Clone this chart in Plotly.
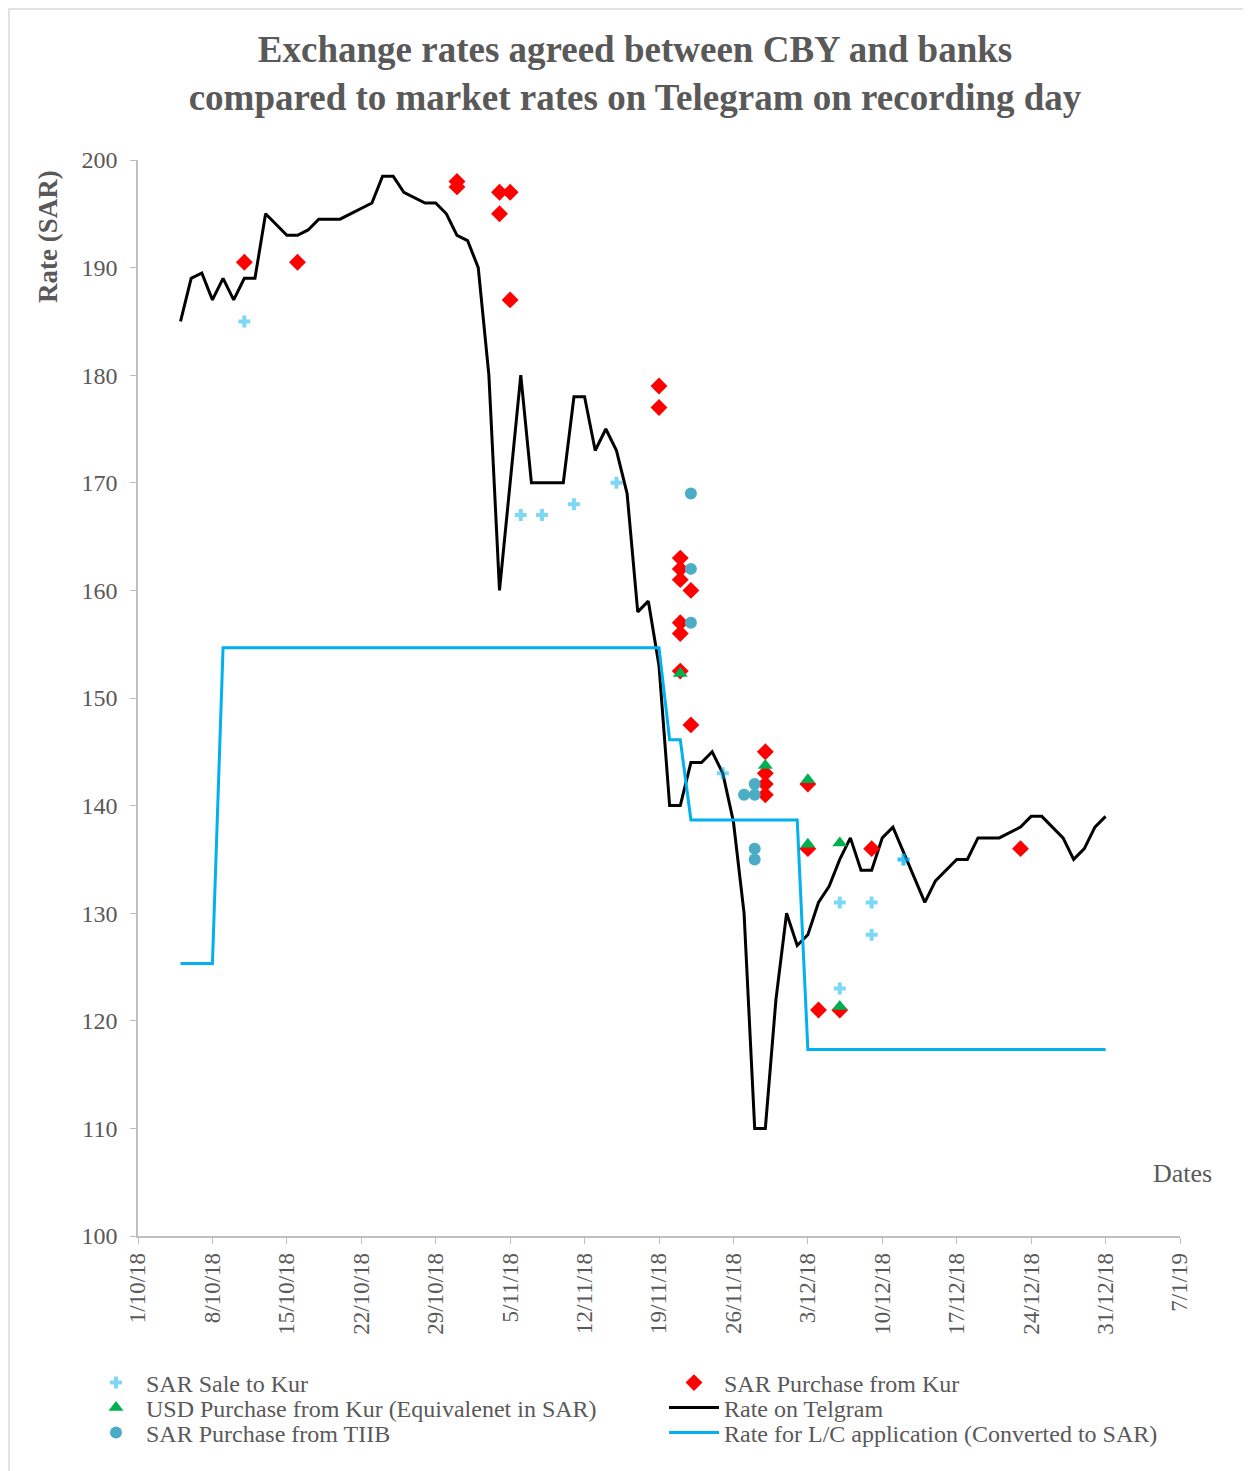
import pandas as pd
import plotly.graph_objects as go

# Rate on Telegram (black line)
tg_dates = ["2018-10-05", "2018-10-06", "2018-10-07", "2018-10-08", "2018-10-09", "2018-10-10",
            "2018-10-11", "2018-10-12", "2018-10-13", "2018-10-15", "2018-10-16", "2018-10-17",
            "2018-10-18", "2018-10-20", "2018-10-23", "2018-10-24", "2018-10-25", "2018-10-26",
            "2018-10-28", "2018-10-29", "2018-10-30", "2018-10-31", "2018-11-01", "2018-11-02",
            "2018-11-03", "2018-11-04", "2018-11-06", "2018-11-07", "2018-11-10", "2018-11-11",
            "2018-11-12", "2018-11-13", "2018-11-14", "2018-11-15", "2018-11-16", "2018-11-17",
            "2018-11-18", "2018-11-19", "2018-11-20", "2018-11-21", "2018-11-22", "2018-11-23",
            "2018-11-24", "2018-11-25", "2018-11-26", "2018-11-27", "2018-11-28", "2018-11-29",
            "2018-11-30", "2018-12-01", "2018-12-02", "2018-12-03", "2018-12-04", "2018-12-05",
            "2018-12-06", "2018-12-07", "2018-12-08", "2018-12-09", "2018-12-10", "2018-12-11",
            "2018-12-14", "2018-12-15", "2018-12-17", "2018-12-18", "2018-12-19", "2018-12-21",
            "2018-12-23", "2018-12-24", "2018-12-25", "2018-12-27", "2018-12-28", "2018-12-29",
            "2018-12-30", "2018-12-31"]
tg_rates = [185, 189, 189.5, 187, 189, 187,
            189, 189, 195, 193, 193, 193.5,
            194.5, 194.5, 196, 198.5, 198.5, 197,
            196, 196, 195, 193, 192.5, 190,
            180, 160, 180, 170, 170, 178,
            178, 173, 175, 173, 169, 158,
            159, 153, 140, 140, 144, 144,
            145, 143, 138.5, 130, 110, 110,
            122, 130, 127, 128, 131, 132.5,
            135, 137, 134, 134, 137, 138,
            131, 133, 135, 135, 137, 137,
            138, 139, 139, 137, 135, 136,
            138, 139]

# Rate for L/C application (converted to SAR)
lc_dates = ["2018-10-05", "2018-10-08", "2018-10-09", "2018-11-19", "2018-11-20",
            "2018-11-21", "2018-11-22", "2018-12-02", "2018-12-03", "2018-12-31"]
lc_rates = [125.33, 125.33, 154.67, 154.67, 146.13, 146.13, 138.67, 138.67, 117.33, 117.33]

# SAR Sale to Kur
sale_dates = ["2018-10-11", "2018-11-06", "2018-11-08", "2018-11-11", "2018-11-15", "2018-11-25",
              "2018-12-06", "2018-12-06", "2018-12-09", "2018-12-09", "2018-12-12", "2018-12-12"]
sale_rates = [185, 167, 167, 168, 170, 143, 131, 123, 131, 128, 135, 135]

# SAR Purchase from Kur
buy_dates = ["2018-10-11", "2018-10-16", "2018-10-31", "2018-10-31", "2018-11-04", "2018-11-04",
             "2018-11-05", "2018-11-05", "2018-11-19", "2018-11-19", "2018-11-21", "2018-11-21",
             "2018-11-21", "2018-11-21", "2018-11-21", "2018-11-21", "2018-11-22", "2018-11-22",
             "2018-11-29", "2018-11-29", "2018-11-29", "2018-11-29", "2018-12-03", "2018-12-03",
             "2018-12-04", "2018-12-06", "2018-12-09", "2018-12-23"]
buy_rates = [190.5, 190.5, 198, 197.5, 197, 195,
             197, 187, 179, 177, 163, 162,
             161, 157, 156, 152.5, 160, 147.5,
             145, 143, 142, 141, 142, 136,
             121, 121, 136, 136]

# USD Purchase from Kur (equivalent in SAR)
usd_dates = ["2018-11-21", "2018-11-29", "2018-12-03", "2018-12-03", "2018-12-06", "2018-12-06"]
usd_rates = [152.27, 143.73, 142.4, 136.4, 136.53, 121.33]

# SAR Purchase from TIIB
tiib_dates = ["2018-11-22", "2018-11-22", "2018-11-22", "2018-11-27",
              "2018-11-28", "2018-11-28", "2018-11-28", "2018-11-28"]
tiib_rates = [169, 162, 157, 141, 142, 141, 136, 135]

y_ticks = [100, 110, 120, 130, 140, 150, 160, 170, 180, 190, 200]

GREY = "#595959"
FONT = "Liberation Serif"


# page pixel -> paper coords (plot area spans x 138..1180, y 160..1236 on the page)
def px(x):
    return (x - 138) / 1042


def py(y):
    return (1236 - y) / 1076


fig = go.Figure()

# lines first so the markers sit on top
fig.add_trace(go.Scatter(x=pd.to_datetime(tg_dates), y=tg_rates, mode="lines",
                         name="Rate on Telgram", legend="legend4",
                         line=dict(color="black", width=3)))
fig.add_trace(go.Scatter(x=pd.to_datetime(lc_dates), y=lc_rates, mode="lines",
                         name="Rate for L/C application (Converted to SAR)", legend="legend6",
                         line=dict(color="#00b0f0", width=3)))
fig.add_trace(go.Scatter(x=pd.to_datetime(sale_dates), y=sale_rates, mode="markers",
                         name="SAR Sale to Kur", legend="legend",
                         marker=dict(symbol="cross", size=10, color="rgba(0,176,240,0.5)",
                                     line=dict(width=0))))
fig.add_trace(go.Scatter(x=pd.to_datetime(buy_dates), y=buy_rates, mode="markers",
                         name="SAR Purchase from Kur", legend="legend2",
                         marker=dict(symbol="diamond", size=13, color="#ff0000",
                                     line=dict(width=0))))
fig.add_trace(go.Scatter(x=pd.to_datetime(usd_dates), y=usd_rates, mode="markers",
                         name="USD Purchase from Kur (Equivalenet in SAR)", legend="legend3",
                         marker=dict(symbol="triangle-up", size=13, color="#00b050",
                                     line=dict(width=0))))
fig.add_trace(go.Scatter(x=pd.to_datetime(tiib_dates), y=tiib_rates, mode="markers",
                         name="SAR Purchase from TIIB", legend="legend5",
                         marker=dict(symbol="circle", size=12, color="#4bacc6",
                                     line=dict(width=0))))

# one legend box per entry so rows can sit as tight as in the original
legend_style = dict(orientation="v", xanchor="left", yanchor="top",
                    itemwidth=50, bgcolor="rgba(0,0,0,0)",
                    font=dict(family=FONT, size=24, color=GREY))
rows = [1383, 1408, 1433]
col_x = [86, 664]
legends = {}
for i, key in enumerate(["legend", "legend2", "legend3", "legend4", "legend5", "legend6"]):
    legends[key] = dict(x=px(col_x[i % 2]), y=py(rows[i // 2] - 22.5), **legend_style)

fig.update_layout(
    width=1243, height=1463,
    margin=dict(l=130, r=71, t=152, b=235, autoexpand=False),
    paper_bgcolor="white", plot_bgcolor="white",
    font=dict(family=FONT, color=GREY, size=22),
    title=dict(text="<b>Exchange rates agreed between CBY and banks<br>compared to market rates on Telegram on recording day</b>",
               x=627 / 1243, xanchor="center", y=1 - (62 - 8) / 1463, yanchor="middle",
               font=dict(family=FONT, size=37, color=GREY)),
    showlegend=True,
    **legends,
)

fig.update_xaxes(
    range=["2018-10-01", "2019-01-07"],
    tick0="2018-10-01", dtick=7 * 24 * 3600 * 1000, tickformat="%-d/%-m/%y",
    tickangle=-90, ticks="outside", ticklen=6, tickcolor="#bfbfbf",
    showline=True, linecolor="#bfbfbf", linewidth=1.5, showgrid=False, zeroline=False,
    tickfont=dict(family=FONT, size=23, color=GREY),
)
fig.update_yaxes(
    range=[100, 200], tickvals=y_ticks,
    ticks="outside", ticklen=6, tickcolor="#bfbfbf", ticklabelstandoff=8,
    showline=True, linecolor="#bfbfbf", linewidth=1.5, showgrid=False, zeroline=False,
    tickfont=dict(family=FONT, size=24, color=GREY),
)

fig.add_annotation(text="<b>Rate (SAR)</b>", xref="paper", yref="paper",
                   x=px(48), y=py(237), xanchor="center", yanchor="middle", textangle=-90,
                   showarrow=False, font=dict(family=FONT, size=27, color=GREY))
fig.add_annotation(text="Dates", xref="paper", yref="paper",
                   x=px(1182), y=py(1173), xanchor="center", yanchor="middle",
                   showarrow=False, font=dict(family=FONT, size=26, color=GREY))

# outer chart frame (top and left edges visible)
fig.add_shape(type="rect", xref="paper", yref="paper",
              x0=px(9), x1=px(1300), y0=py(1520), y1=py(9),
              line=dict(color="#d9d9d9", width=1.5), layer="below")

fig.write_html("out.html")
